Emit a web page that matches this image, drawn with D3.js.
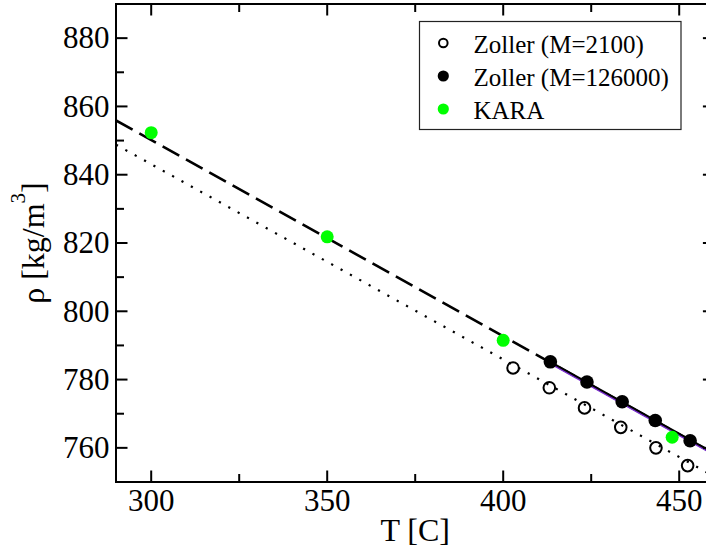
<!DOCTYPE html>
<html><head><meta charset="utf-8">
<script src="https://cdn.jsdelivr.net/npm/d3@7"></script>
<style>body{margin:0;background:#fff}svg{display:block}</style>
</head><body>
<svg id="c" width="706" height="549"></svg>
<script>
// Data
const zollerLowT   = [402.8, 413.1, 423.1, 433.4, 443.4, 452.4];
const zollerLowRho = [783.4, 777.6, 771.7, 766.0, 760.0, 754.8];
const zollerHighT   = [413.4, 423.8, 433.8, 443.2, 453.1];
const zollerHighRho = [785.2, 779.3, 773.5, 768.0, 762.1];
const karaT   = [300, 350, 400, 448.0];
const karaRho = [852.3, 821.8, 791.5, 763.1];
// fit lines (endpoints in data units)
const karaFitT = [290, 460],  karaFitRho = [855.9, 758.2];
const lowFitT  = [290, 460],  lowFitRho  = [848.8, 751.6];
const highFitT = [413.4, 460], highFitRho = [785.2, 758.4];
const highFit2Rho = [784.8, 758.0];
const xTicks = [300, 350, 400, 450];
const yTicks = [760, 780, 800, 820, 840, 860, 880];
const legendLabels = ["Zoller (M=2100)", "Zoller (M=126000)", "KARA"];

const FONT = '"Liberation Serif"';
const svg = d3.select("#c");
const L = 116, R = 714.4, T = 4, B = 482;
const x = d3.scaleLinear().domain([290, 460]).range([L, R]);
const y = d3.scaleLinear().domain([750, 890]).range([B, T]);

svg.append("defs").append("clipPath").attr("id","clip")
  .append("rect").attr("x",L).attr("y",T).attr("width",R-L).attr("height",B-T);
const g = svg.append("g").attr("clip-path","url(#clip)");

const line = d3.line().x(d=>x(d[0])).y(d=>y(d[1]));
const zip = (a,b)=>a.map((v,i)=>[v,b[i]]);

g.append("path").datum(zip(lowFitT,lowFitRho)).attr("d",line)
  .attr("fill","none").attr("stroke","#000").attr("stroke-width",2.2)
  .attr("stroke-dasharray","2.2,8.5");
g.append("path").datum(zip(karaFitT,karaFitRho)).attr("d",line)
  .attr("fill","none").attr("stroke","#000").attr("stroke-width",2.6)
  .attr("stroke-dasharray","19,7.7");
g.append("path").datum(zip(highFitT,highFit2Rho)).attr("d",line)
  .attr("fill","none").attr("stroke","#7b2fd0").attr("stroke-width",2.2);
g.append("path").datum(zip(highFitT,highFitRho)).attr("d",line)
  .attr("fill","none").attr("stroke","#000").attr("stroke-width",2);

g.selectAll(".lo").data(zip(zollerLowT,zollerLowRho)).join("circle")
  .attr("cx",d=>x(d[0])).attr("cy",d=>y(d[1])).attr("r",5.8)
  .attr("fill","none").attr("stroke","#000").attr("stroke-width",2);
g.selectAll(".hi").data(zip(zollerHighT,zollerHighRho)).join("circle")
  .attr("cx",d=>x(d[0])).attr("cy",d=>y(d[1])).attr("r",6.8).attr("fill","#000");
g.selectAll(".ka").data(zip(karaT,karaRho)).join("circle")
  .attr("cx",d=>x(d[0])).attr("cy",d=>y(d[1])).attr("r",6.5).attr("fill","#00ff00");

// axes
const ax = svg.append("g");
const xMinor = d3.range(300, 460, 25);
const yMinor = d3.range(750, 891, 10);
xMinor.forEach(v=>{
  const major = xTicks.includes(v), len = major?11.5:8;
  ax.append("line").attr("x1",x(v)).attr("x2",x(v)).attr("y1",B).attr("y2",B-len).attr("stroke","#000").attr("stroke-width",2);
  ax.append("line").attr("x1",x(v)).attr("x2",x(v)).attr("y1",T).attr("y2",T+len).attr("stroke","#000").attr("stroke-width",2);
});
yMinor.forEach(v=>{
  if (v<=750 || v>=890) return;
  const major = yTicks.includes(v), len = major?11.5:8;
  ax.append("line").attr("y1",y(v)).attr("y2",y(v)).attr("x1",L).attr("x2",L+len).attr("stroke","#000").attr("stroke-width",2);
  ax.append("line").attr("y1",y(v)).attr("y2",y(v)).attr("x1",R).attr("x2",R-len).attr("stroke","#000").attr("stroke-width",2);
});
ax.append("rect").attr("x",L).attr("y",T).attr("width",R-L).attr("height",B-T)
  .attr("fill","none").attr("stroke","#000").attr("stroke-width",2);

xTicks.forEach(v=>{
  ax.append("text").attr("x",x(v)).attr("y",B+28.7).attr("text-anchor","middle")
    .style("font-family",FONT).attr("font-size",31).text(v);
});
yTicks.forEach(v=>{
  ax.append("text").attr("x",L-6.5).attr("y",y(v)).attr("dy","0.33em").attr("text-anchor","end")
    .style("font-family",FONT).attr("font-size",31).text(v);
});
svg.append("text").attr("x",(L+R)/2).attr("y",541).attr("text-anchor","middle")
  .style("font-family",FONT).attr("font-size",32).text("T [C]");
const yt = svg.append("text").attr("transform","translate(44,243) rotate(-90)")
  .attr("text-anchor","middle").style("font-family",FONT).attr("font-size",32);
yt.append("tspan").text("ρ [kg/m");
yt.append("tspan").attr("font-size",21).attr("dy",-19).text("3");
yt.append("tspan").attr("dy",19).text("]");

// legend
const lg = svg.append("g");
lg.append("rect").attr("x",419.5).attr("y",21.5).attr("width",261.5).attr("height",108)
  .attr("fill","#fff").attr("stroke","#222").attr("stroke-width",1.2);
legendLabels.forEach((lab,i)=>{
  const by = 52.5 + i*33, cy = by - 9.5;
  if (i===0) lg.append("circle").attr("cx",443.3).attr("cy",cy).attr("r",4.3).attr("fill","none").attr("stroke","#000").attr("stroke-width",2);
  else lg.append("circle").attr("cx",443.3).attr("cy",cy).attr("r",5.6).attr("fill",i===1?"#000":"#00ff00");
  lg.append("text").attr("x",473.5).attr("y",by).style("font-family",FONT).attr("font-size",25).text(lab);
});
</script>
</body></html>
